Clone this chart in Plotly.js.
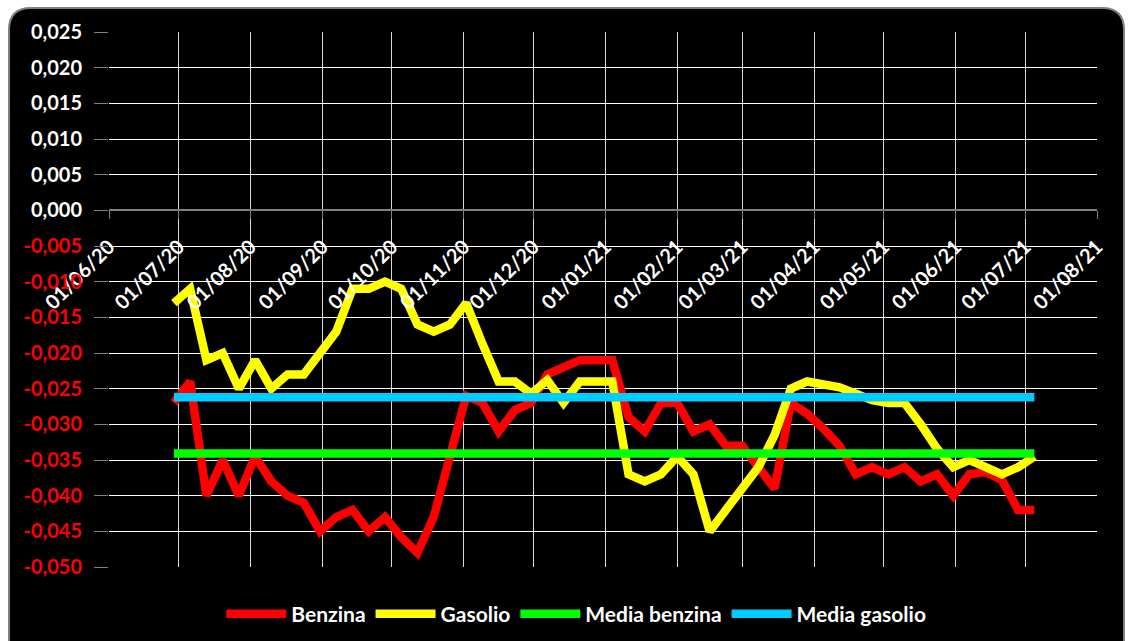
<!DOCTYPE html>
<html>
<head>
<meta charset="utf-8">
<script src="https://cdn.plot.ly/plotly-3.0.1.min.js"></script>
<style>
  html, body { margin: 0; padding: 0; background: #ffffff; }
  #chart { width: 1130px; height: 641px; }
</style>
</head>
<body>
<div id="chart"></div>
<script>
// Weekly survey dates (Mondays)
const dates = [
  '2020-06-29','2020-07-06','2020-07-13','2020-07-20','2020-07-27',
  '2020-08-03','2020-08-10','2020-08-17','2020-08-24','2020-08-31',
  '2020-09-07','2020-09-14','2020-09-21','2020-09-28',
  '2020-10-05','2020-10-12','2020-10-19','2020-10-26',
  '2020-11-02','2020-11-09','2020-11-16','2020-11-23','2020-11-30',
  '2020-12-07','2020-12-14','2020-12-21','2020-12-28',
  '2021-01-04','2021-01-11','2021-01-18','2021-01-25',
  '2021-02-01','2021-02-08','2021-02-15','2021-02-22',
  '2021-03-01','2021-03-08','2021-03-15','2021-03-22','2021-03-29',
  '2021-04-05','2021-04-12','2021-04-19','2021-04-26',
  '2021-05-03','2021-05-10','2021-05-17','2021-05-24','2021-05-31',
  '2021-06-07','2021-06-14','2021-06-21','2021-06-28',
  '2021-07-05'
];

const benzina = [
  -0.027, -0.024, -0.040, -0.035, -0.040,
  -0.0345, -0.038, -0.040, -0.041, -0.045,
  -0.043, -0.042, -0.045, -0.043,
  -0.0458, -0.048, -0.043, -0.035,
  -0.026, -0.027, -0.031, -0.028, -0.027,
  -0.023, -0.022, -0.021, -0.021,
  -0.021, -0.029, -0.031, -0.027,
  -0.027, -0.031, -0.030, -0.033,
  -0.033, -0.036, -0.039, -0.027, -0.0285,
  -0.0306, -0.033, -0.037, -0.036,
  -0.037, -0.036, -0.038, -0.037, -0.040,
  -0.037, -0.0367, -0.0378, -0.042,
  -0.042
];

const gasolio = [
  -0.013, -0.011, -0.021, -0.020, -0.025,
  -0.021, -0.025, -0.023, -0.023, -0.020,
  -0.017, -0.011, -0.011, -0.010,
  -0.011, -0.016, -0.017, -0.016,
  -0.013, -0.0187, -0.024, -0.024, -0.0257,
  -0.0238, -0.027, -0.024, -0.024,
  -0.024, -0.037, -0.038, -0.037,
  -0.0345, -0.037, -0.045, -0.042,
  -0.039, -0.036, -0.0315, -0.025, -0.024,
  -0.0243, -0.0248, -0.0257, -0.0266,
  -0.027, -0.027, -0.030, -0.0334, -0.036,
  -0.035, -0.036, -0.037, -0.036,
  -0.0345
];

const mediaDates = ['2020-06-29', '2021-07-05'];
const mediaBenzina = [-0.0341, -0.0341];
const mediaGasolio = [-0.0262, -0.0262];

const xTickVals = [
  '2020-06-01','2020-07-01','2020-08-01','2020-09-01','2020-10-01','2020-11-01',
  '2020-12-01','2021-01-01','2021-02-01','2021-03-01','2021-04-01','2021-05-01',
  '2021-06-01','2021-07-01','2021-08-01'
];
const xTickLabels = [
  '01/06/20','01/07/20','01/08/20','01/09/20','01/10/20','01/11/20',
  '01/12/20','01/01/21','01/02/21','01/03/21','01/04/21','01/05/21',
  '01/06/21','01/07/21','01/08/21'
];

const yTickVals = [0.025, 0.020, 0.015, 0.010, 0.005, 0.000,
  -0.005, -0.010, -0.015, -0.020, -0.025, -0.030, -0.035, -0.040, -0.045, -0.050];
const yTickLabels = ['0,025','0,020','0,015','0,010','0,005','0,000',
  '-0,005','-0,010','-0,015','-0,020','-0,025','-0,030','-0,035','-0,040','-0,045','-0,050'];

const seriesNames = ['Benzina', 'Gasolio', 'Media benzina', 'Media gasolio'];
const seriesColors = ['#ff0000', '#ffff00', '#00ff00', '#00ccff'];

const yTickText = yTickLabels.map(function (t, i) {
  return yTickVals[i] < 0 ? '<span style="color:#ff0000">' + t + '</span>' : t;
});

const lineStyle = function (c) { return { color: c, width: 8.5, shape: 'linear' }; };

const traces = [
  { x: dates, y: benzina, name: seriesNames[0], type: 'scatter', mode: 'lines', line: lineStyle(seriesColors[0]) },
  { x: dates, y: gasolio, name: seriesNames[1], type: 'scatter', mode: 'lines', line: lineStyle(seriesColors[1]) },
  { x: mediaDates, y: mediaBenzina, name: seriesNames[2], type: 'scatter', mode: 'lines', line: lineStyle(seriesColors[2]) },
  { x: mediaDates, y: mediaGasolio, name: seriesNames[3], type: 'scatter', mode: 'lines', line: lineStyle(seriesColors[3]) }
];

// plot area in px: x 109..1097, y 32..567
const W = 988, H = 535;
const px = function (x) { return (x - 109) / W; };
const py = function (y) { return (567 - y) / H; };
const x0 = px(9), x1 = px(1124), yT = py(8), yB = py(680);
const rx = 22 / W, ry = 22 / H;
const panelPath = 'M ' + (x0 + rx) + ',' + yT + ' L ' + (x1 - rx) + ',' + yT +
  ' Q ' + x1 + ',' + yT + ' ' + x1 + ',' + (yT - ry) +
  ' L ' + x1 + ',' + yB + ' L ' + x0 + ',' + yB + ' L ' + x0 + ',' + (yT - ry) +
  ' Q ' + x0 + ',' + yT + ' ' + (x0 + rx) + ',' + yT + ' Z';

const fontFam = 'Lato, "Open Sans", sans-serif';

const layout = {
  width: 1130,
  height: 641,
  margin: { l: 109, r: 33, t: 32, b: 74, pad: 0, autoexpand: false },
  paper_bgcolor: '#ffffff',
  plot_bgcolor: '#000000',
  showlegend: true,
  separators: ',.',
  shapes: [{
    type: 'path', xref: 'paper', yref: 'paper', layer: 'below',
    path: panelPath, fillcolor: '#000000', line: { color: '#7f7f7f', width: 2 }
  }],
  xaxis: {
    type: 'date',
    range: ['2020-06-01', '2021-08-01'],
    tickmode: 'array',
    tickvals: xTickVals,
    ticktext: xTickLabels,
    tickangle: -45,
    tickfont: { family: fontFam, size: 20, color: '#ffffff', weight: 'bold' },
    ticks: 'outside', ticklen: 8, tickcolor: '#808080', tickwidth: 1,
    ticklabelstandoff: 8,
    showgrid: true, gridcolor: '#d9d9d9', gridwidth: 1,
    showline: false, zeroline: false,
    anchor: 'free', position: 2 / 3,
    automargin: false,
    fixedrange: true
  },
  yaxis: {
    range: [-0.05, 0.025],
    tickmode: 'array',
    tickvals: yTickVals,
    ticktext: yTickText,
    tickfont: { family: fontFam, size: 20, color: '#ffffff', weight: 'bold' },
    ticks: 'outside', ticklen: 14, tickcolor: '#808080', tickwidth: 1,
    ticklabelstandoff: 8,
    showgrid: true, gridcolor: '#ffffff', gridwidth: 1,
    zeroline: true, zerolinecolor: '#808080', zerolinewidth: 2,
    showline: false,
    automargin: false,
    fixedrange: true
  },
  legend: {
    orientation: 'h',
    x: 0.473, xanchor: 'center',
    y: -0.088, yanchor: 'middle',
    bgcolor: 'rgba(0,0,0,0)',
    font: { family: fontFam, size: 21, color: '#ffffff', weight: 'bold' },
    itemwidth: 60,
    traceorder: 'normal'
  }
};

Plotly.newPlot('chart', traces, layout, { displayModeBar: false, staticPlot: true });
</script>
</body>
</html>
